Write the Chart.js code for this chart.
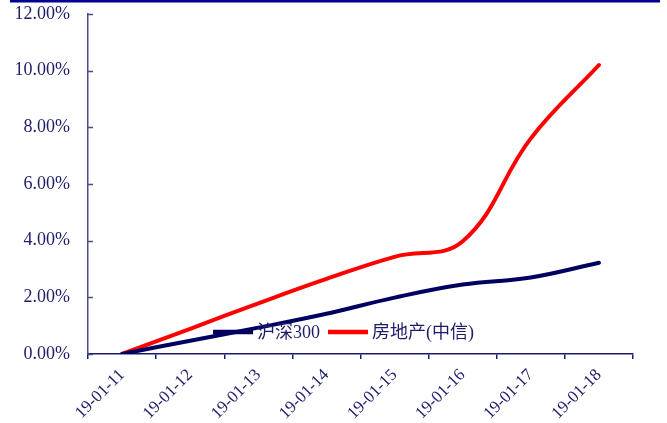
<!DOCTYPE html>
<html>
<head>
<meta charset="utf-8">
<script src="https://cdn.jsdelivr.net/npm/chart.js@4.4.1/dist/chart.umd.min.js"></script>
<style>
  html, body { margin: 0; padding: 0; background: #fff; }
  #wrap { position: relative; width: 667px; height: 423px; }
</style>
</head>
<body>
<div id="wrap"><canvas id="c"></canvas></div>
<script>
// ---- data ----
const categories = ['19-01-11', '19-01-12', '19-01-13', '19-01-14', '19-01-15', '19-01-16', '19-01-17', '19-01-18'];
const hs300 = [0, 0.47, 0.93, 1.42, 1.99, 2.45, 2.70, 3.22];
const realEstate = [0, 0.89, 1.79, 2.65, 3.43, 3.98, 7.61, 10.20];
const seriesNames = ['沪深300', '房地产(中信)'];
const yMin = 0, yMax = 12, yStep = 2;

// ---- styles ----
const FONT = "'Liberation Serif', 'Times New Roman', 'Noto Sans CJK SC', serif";
const TEXT = '#1c1c6b';
const NAVY = '#000060';
const RED = '#ff0000';

const topRulePlugin = {
  id: 'topRule',
  beforeDraw(chart) {
    const ctx = chart.ctx;
    ctx.save();
    ctx.fillStyle = '#000090';
    ctx.fillRect(10, 0, 650, 2.5);
    ctx.restore();
  }
};

const innerYTicks = {
  id: 'innerYTicks',
  afterDraw(chart) {
    const s = chart.scales.y, ctx = chart.ctx, x0 = chart.chartArea.left;
    ctx.save();
    ctx.strokeStyle = '#4b4b8b';
    ctx.lineWidth = 1.5;
    s.ticks.forEach(t => {
      const y = Math.round(s.getPixelForValue(t.value)) + 0.5;
      ctx.beginPath();
      ctx.moveTo(x0, y);
      ctx.lineTo(x0 + 5, y);
      ctx.stroke();
    });
    ctx.restore();
  }
};

const innerLegend = {
  id: 'innerLegend',
  afterDatasetsDraw(chart) {
    const ctx = chart.ctx, ca = chart.chartArea;
    let x = ca.left + 125;
    const y = ca.bottom - 22;
    ctx.save();
    ctx.font = "18px " + FONT;
    ctx.textBaseline = 'middle';
    ctx.textAlign = 'left';
    chart.data.datasets.forEach(ds => {
      ctx.strokeStyle = ds.borderColor;
      ctx.lineWidth = 4.5;
      ctx.beginPath();
      ctx.moveTo(x, y);
      ctx.lineTo(x + 40, y);
      ctx.stroke();
      x += 44;
      ctx.fillStyle = TEXT;
      ctx.fillText(ds.label, x, y + 1);
      x += ctx.measureText(ds.label).width + 8;
    });
    ctx.restore();
  }
};

new Chart(document.getElementById('c'), {
  type: 'line',
  data: {
    labels: categories,
    datasets: [
      { label: seriesNames[0], data: hs300, borderColor: NAVY, backgroundColor: NAVY, borderWidth: 4, pointRadius: 0, tension: 0.4, borderCapStyle: 'round' },
      { label: seriesNames[1], data: realEstate, borderColor: RED, backgroundColor: RED, borderWidth: 4, pointRadius: 0, tension: 0.4, borderCapStyle: 'round' }
    ]
  },
  options: {
    responsive: true,
    maintainAspectRatio: false,
    animation: false,
    layout: { padding: { left: 0, right: 34, top: 14, bottom: 0 } },
    plugins: { legend: { display: false }, tooltip: { enabled: false } },
    scales: {
      x: {
        type: 'category',
        offset: true,
        grid: { offset: true, drawOnChartArea: false, drawTicks: true, tickLength: 5, color: '#1a1a70', lineWidth: 1.5 },
        border: { display: true, color: '#1a1a70', width: 1.5 },
        ticks: { minRotation: 45, maxRotation: 45, autoSkip: false, padding: 6, color: TEXT, font: { family: FONT, size: 17 } },
        afterFit(s) { s.height = 69; }
      },
      y: {
        min: yMin, max: yMax,
        grid: { drawOnChartArea: false, drawTicks: false },
        border: { display: true, color: '#4b4b8b', width: 1.5 },
        ticks: { stepSize: yStep, padding: 18, color: TEXT, font: { family: FONT, size: 18 },
                 callback: v => Number(v).toFixed(2) + '%' },
        afterFit(s) { s.width = 88; s.paddingTop = 0; }
      }
    }
  },
  plugins: [topRulePlugin, innerYTicks, innerLegend]
});
</script>
</body>
</html>
